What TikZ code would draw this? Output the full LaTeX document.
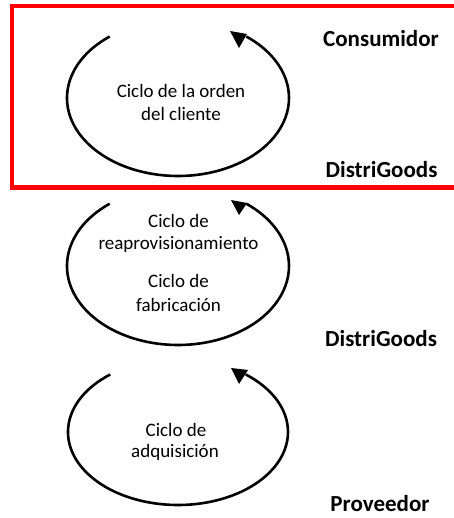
\documentclass[tikz,border=0pt]{standalone}
\usepackage{fontspec}
\setmainfont{Carlito}
\begin{document}
\begin{tikzpicture}[x=1pt,y=1pt,
  cyclepath/.style={draw=black,line width=2.6pt},
  headtip/.style={fill=black},
  cycletext/.style={inner sep=0pt,anchor=base,font=\fontsize{19}{23}\selectfont},
  levellabel/.style={inner sep=0pt,anchor=base,font=\fontsize{23}{28}\selectfont\bfseries},
  frame/.style={draw=red,line width=4.5pt}]
\useasboundingbox (0,0) rectangle (453,518);

% frame around the customer order cycle
\draw[frame] (470,512) -- (12,512) -- (12,330.5) -- (470,330.5);

% cycle centres
\coordinate (c1) at (178,420);
\coordinate (c2) at (178,252);
\coordinate (c3) at (178,86);

% customer order cycle
\draw[cyclepath] (c1) ++(128:111pt and 78pt)
  arc[start angle=128,end angle=412,x radius=111pt,y radius=78pt];
\fill[headtip] (230,487) -- (247,484) -- (239,470) -- cycle;
\node[cycletext] (t1a) at (181,420) {Ciclo de la orden};
\node[cycletext] (t1b) at (181,397) {del cliente};

% replenishment / manufacturing cycle
\draw[cyclepath] (c2) ++(128:111pt and 79pt)
  arc[start angle=128,end angle=412,x radius=111pt,y radius=79pt];
\fill[headtip] (231,318) -- (247,315) -- (239,303) -- cycle;
\node[cycletext] (t2a) at (178.5,290) {Ciclo de};
\node[cycletext] (t2b) at (178.5,268) {reaprovisionamiento};
\node[cycletext] (t2c) at (178.5,230) {Ciclo de};
\node[cycletext] (t2d) at (178.5,206) {fabricación};

% procurement cycle
\draw[cyclepath] (c3) ++(128:110pt and 73pt)
  arc[start angle=128,end angle=412,x radius=110pt,y radius=73pt];
\fill[headtip] (231,150) -- (248,148) -- (239,134) -- cycle;
\node[cycletext] (t3a) at (176,81) {Ciclo de};
\node[cycletext] (t3b) at (175,60) {adquisición};

% stage labels
\node[levellabel] (consumidor) at (381,471) {Consumidor};
\node[levellabel] (dg1) at (381.5,340) {DistriGoods};
\node[levellabel] (dg2) at (381,171) {DistriGoods};
\node[levellabel] (proveedor) at (380,6) {Proveedor};
\end{tikzpicture}
\end{document}
